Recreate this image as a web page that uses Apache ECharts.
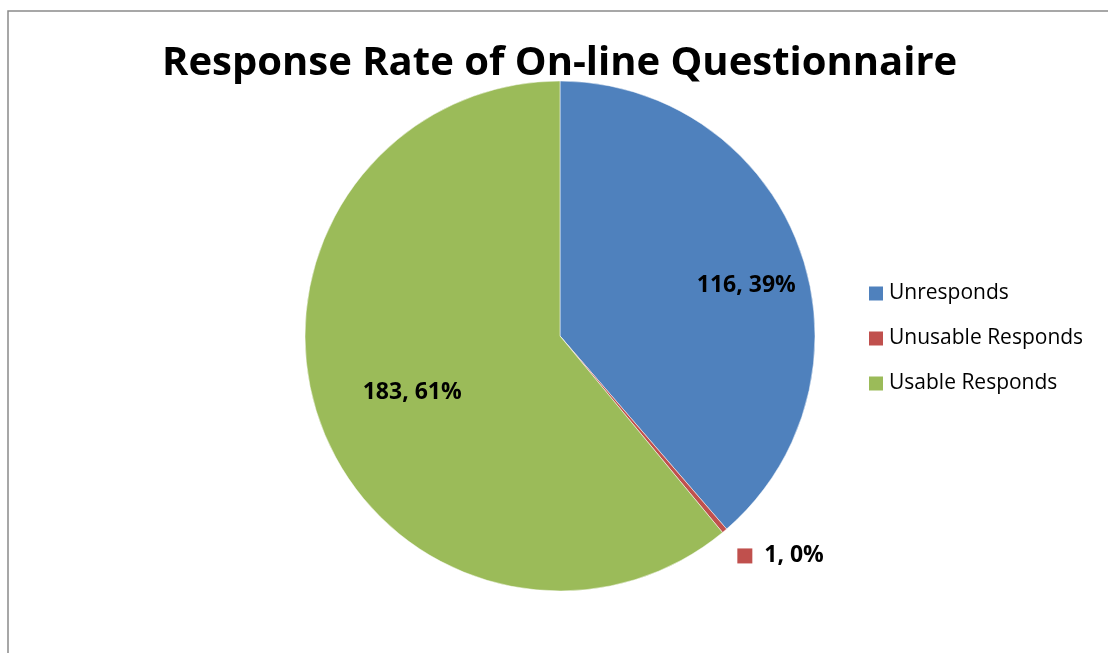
<!DOCTYPE html>
<html>
<head>
<meta charset="utf-8">
<script src="https://cdn.jsdelivr.net/npm/echarts@6/dist/echarts.min.js"></script>
<style>
  html, body { margin: 0; padding: 0; background: #fff; }
  #chart { width: 1108px; height: 653px; }
</style>
</head>
<body>
<div id="chart"></div>
<script>
// Questionnaire outcome counts
const categories = ['Unresponds', 'Unusable Responds', 'Usable Responds'];
const counts = [116, 1, 183];
const colors = ['#4F81BD', '#C0504D', '#9BBB59'];
const titleText = 'Response Rate of On-line Questionnaire';

const FONT = '"Open Sans", "Liberation Sans", sans-serif';

const chart = echarts.init(document.getElementById('chart'), null, { renderer: 'canvas' });

// per-slice label nudges, relative to the library's own label placement
const labelNudge = [[64, -5], [0, 16], [-25, 12]];

const pieData = categories.map((name, i) => {
  const item = { name: name, value: counts[i], itemStyle: { color: colors[i] } };
  if (i === 1) {
    // the thin slice gets an outside label carrying its colour key
    item.label = {
      position: 'outside',
      formatter: p => '{sq|}  {t|' + p.value + ', ' + Math.round(p.percent) + '%}',
      rich: {
        sq: { backgroundColor: colors[1], width: 15, height: 15 },
        t: { fontFamily: FONT, fontWeight: 'bold', fontSize: 23, color: '#000' }
      }
    };
    item.labelLine = { show: false, length: 12, length2: 0 };
  }
  return item;
});

const option = {
  backgroundColor: '#ffffff',
  animation: false,
  title: {
    text: titleText,
    left: 162,
    top: 44,
    padding: 0,
    textStyle: { fontFamily: FONT, fontWeight: 'bold', fontSize: 40, color: '#000' }
  },
  legend: {
    orient: 'vertical',
    left: 869,
    top: 283,
    padding: 0,
    itemWidth: 14,
    itemHeight: 14,
    itemGap: 24,
    icon: 'rect',
    itemStyle: { borderWidth: 0 },
    data: categories,
    textStyle: { fontFamily: FONT, fontSize: 21, color: '#000', lineHeight: 21, padding: [0, 0, 0, 1] }
  },
  graphic: [{
    type: 'rect',
    shape: { x: 8, y: 11, width: 1200, height: 800 },
    style: { fill: 'none', stroke: '#8a8a8a', lineWidth: 1.5 },
    silent: true
  }],
  series: [{
    type: 'pie',
    center: [560, 336],
    radius: 255,
    startAngle: 90,
    clockwise: true,
    itemStyle: { borderColor: '#ffffff', borderWidth: 0.5 },
    label: {
      show: true,
      position: 'inside',
      fontFamily: FONT,
      fontWeight: 'bold',
      fontSize: 23,
      color: '#000',
      formatter: p => p.value + ', ' + Math.round(p.percent) + '%'
    },
    labelLayout: p => {
      const n = labelNudge[p.dataIndex];
      return { dx: n[0], dy: n[1] };
    },
    emphasis: { disabled: true },
    data: pieData
  }]
};

chart.setOption(option);
</script>
</body>
</html>
